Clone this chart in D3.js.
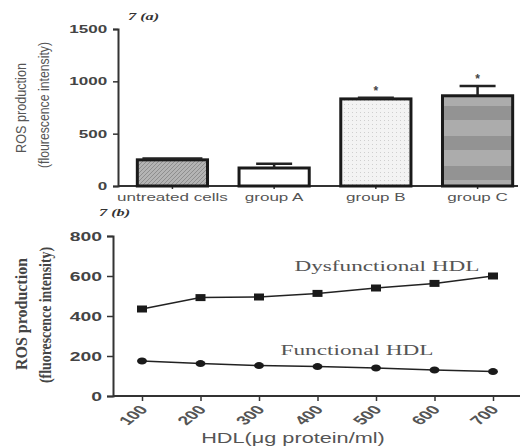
<!DOCTYPE html>
<html>
<head>
<meta charset="utf-8">
<script src="https://cdn.jsdelivr.net/npm/d3@7"></script>
<style>
  body { margin: 0; background: #fff; }
  svg { display: block; }
</style>
</head>
<body>
<svg id="canvas" width="520" height="447"></svg>
<script>
// panel (a): bar chart
let groups = ['untreated cells', 'group A', 'group B', 'group C']
let rosMean = [250, 172, 832, 862]
let rosErr = [12, 40, 10, 93]
let starred = [false, false, true, true]
let yTicksA = [0, 500, 1000, 1500]

// panel (b): line chart
let hdlDose = [100, 200, 300, 400, 500, 600, 700]
let dysfunctional = [435, 492, 495, 513, 540, 563, 600]
let functional = [175, 162, 152, 147, 140, 130, 122]
let yTicksB = [0, 200, 400, 600, 800]

const SX = 1.55 // the picture is stretched sideways, text too
let sans = 'Liberation Sans, Arial, sans-serif'
let serif = 'Liberation Serif, Times New Roman, serif'

let canvas = d3.select('#canvas')

let stretch = (sel) => {
    sel.attr('transform', function () {
        let x = +d3.select(this).attr('x') || 0
        let y = +d3.select(this).attr('y') || 0
        return 'translate(' + x + ',' + y + ') scale(' + SX + ',1) translate(' + (-x) + ',' + (-y) + ')'
    })
}

// patterns for the bar fills
let defs = canvas.append('defs')
let hatch = defs.append('pattern').attr('id', 'hatch')
    .attr('patternUnits', 'userSpaceOnUse').attr('width', 4).attr('height', 4)
hatch.append('rect').attr('width', 4).attr('height', 4).attr('fill', '#b4b4b4')
hatch.append('path').attr('d', 'M0,4 L4,0').attr('stroke', '#8e8e8e').attr('stroke-width', 1)

let dots = defs.append('pattern').attr('id', 'dots')
    .attr('patternUnits', 'userSpaceOnUse').attr('width', 4).attr('height', 4)
dots.append('rect').attr('width', 4).attr('height', 4).attr('fill', '#f3f3f3')
dots.append('rect').attr('width', 1).attr('height', 1).attr('fill', '#cfcfcf')

let stripes = defs.append('pattern').attr('id', 'stripes')
    .attr('patternUnits', 'userSpaceOnUse').attr('width', 10).attr('height', 30)
    .attr('y', 96)
stripes.append('rect').attr('width', 10).attr('height', 30).attr('fill', '#acacac')
stripes.append('rect').attr('y', 10).attr('width', 10).attr('height', 14).attr('fill', '#939393')

let fills = ['url(#hatch)', '#ffffff', 'url(#dots)', 'url(#stripes)']

// ---------- panel (a) ----------
let xA = d3.scaleBand().domain(groups).range([118, 532]).paddingInner(0.31).paddingOuter(0.19)
let yA = d3.scaleLinear().domain([0, 1500]).range([186, 29])

let axA = canvas.append('g').attr('transform', 'translate(118,0)')
    .call(d3.axisLeft(yA).tickValues(yTicksA).tickFormat(d3.format('d')).tickSize(5))
axA.select('.domain').attr('stroke', '#333').attr('stroke-width', 2)
axA.selectAll('.tick line').attr('stroke', '#333').attr('stroke-width', 1.5)
axA.selectAll('text').attr('x', -7).attr('font-family', sans).attr('font-size', 11)
    .attr('font-weight', 'bold').attr('fill', '#444').attr('transform', 'scale(' + SX + ',1)')

let axAx = canvas.append('g').attr('transform', 'translate(0,186)')
    .call(d3.axisBottom(xA).tickSize(3).tickSizeOuter(0))
axAx.select('.domain').attr('d', 'M118,0H518').attr('stroke', '#333').attr('stroke-width', 2)
axAx.selectAll('.tick line').attr('stroke', '#333').attr('stroke-width', 1.5)
axAx.selectAll('text').attr('y', 7).attr('font-family', sans).attr('font-size', 11)
    .attr('fill', '#555').attr('transform', 'scale(' + SX + ',1)')

let bars = canvas.append('g').selectAll('g').data(groups).enter().append('g')

bars.append('rect')
    .attr('x', (g) => xA(g))
    .attr('y', (g, i) => yA(rosMean[i]))
    .attr('width', xA.bandwidth())
    .attr('height', (g, i) => yA(0) - yA(rosMean[i]))
    .attr('fill', (g, i) => fills[i])
    .attr('stroke', '#1a1a1a')
    .attr('stroke-width', 3)

// error bars
bars.append('path')
    .attr('d', (g, i) => {
        let cx = xA(g) + xA.bandwidth() / 2
        let half = i === 0 ? 30 : 18
        return 'M' + cx + ',' + yA(rosMean[i]) + 'V' + yA(rosMean[i] + rosErr[i]) +
            'M' + (cx - half) + ',' + yA(rosMean[i] + rosErr[i]) + 'H' + (cx + half)
    })
    .attr('stroke', '#222').attr('stroke-width', 2.5).attr('fill', 'none')

bars.filter((g, i) => starred[i]).append('text')
    .attr('x', (g) => xA(g) + xA.bandwidth() / 2)
    .attr('y', (g) => yA(rosMean[groups.indexOf(g)] + rosErr[groups.indexOf(g)]))
    .attr('dy', -3)
    .attr('text-anchor', 'middle')
    .attr('font-family', sans).attr('font-size', 12).attr('font-weight', 'bold').attr('fill', '#444')
    .text('*')

canvas.append('text').attr('x', 128).attr('y', 20).text('7 (a)')
    .attr('font-family', serif).attr('font-size', 10.5).attr('font-style', 'italic')
    .attr('font-weight', 'bold').attr('fill', '#333').call(stretch)

// y label (a)
let yLabA = [['ROS production', 26, 108, 90], ['(flourescence intensity)', 49, 105, 126]]
yLabA.forEach((l) => {
    canvas.append('text')
        .attr('transform', 'translate(' + l[1] + ',' + l[2] + ') scale(' + SX + ',1) rotate(-90)')
        .attr('text-anchor', 'middle')
        .attr('font-family', sans).attr('font-size', 10).attr('fill', '#555')
        .attr('textLength', l[3]).attr('lengthAdjust', 'spacingAndGlyphs')
        .text(l[0])
})

// ---------- panel (b) ----------
let xB = d3.scaleLinear().domain([100, 700]).range([142, 493])
let yB = d3.scaleLinear().domain([0, 800]).range([396, 236])

let axB = canvas.append('g').attr('transform', 'translate(113,0)')
    .call(d3.axisLeft(yB).tickValues(yTicksB).tickSize(6))
axB.select('.domain').attr('stroke', '#333').attr('stroke-width', 2)
axB.selectAll('.tick line').attr('stroke', '#333').attr('stroke-width', 1.5)
axB.selectAll('text').attr('x', -7).attr('font-family', sans).attr('font-size', 12.5)
    .attr('font-weight', 'bold').attr('fill', '#444').attr('transform', 'scale(' + SX + ',1)')

let axBx = canvas.append('g').attr('transform', 'translate(0,396)')
    .call(d3.axisBottom(xB).tickValues(hdlDose).tickSize(5).tickSizeOuter(0))
axBx.select('.domain').attr('d', 'M113,0H520').attr('stroke', '#333').attr('stroke-width', 2)
axBx.selectAll('.tick line').attr('stroke', '#333').attr('stroke-width', 1.5)
axBx.selectAll('text')
    .attr('x', 0).attr('y', 0).attr('dy', '0.35em')
    .attr('text-anchor', 'end')
    .attr('transform', 'translate(1,11) scale(' + SX + ',1) rotate(-50)')
    .attr('font-family', sans).attr('font-size', 12.5).attr('font-weight', 'bold').attr('fill', '#555')

let line = d3.line().x((d) => xB(d[0])).y((d) => yB(d[1]))

let series = [
    { vals: dysfunctional, shape: 'square', label: 'Dysfunctional HDL', lx: 387, ly: 271 },
    { vals: functional, shape: 'circle', label: 'Functional HDL', lx: 357, ly: 355 }
]

series.forEach((s) => {
    let pts = hdlDose.map((d, i) => [d, s.vals[i]])
    canvas.append('path').datum(pts).attr('d', line)
        .attr('fill', 'none').attr('stroke', '#222').attr('stroke-width', 1.5)
    let g = canvas.append('g')
    if (s.shape === 'square') {
        g.selectAll('rect').data(pts).enter().append('rect')
            .attr('x', (d) => xB(d[0]) - 5).attr('y', (d) => yB(d[1]) - 3.5)
            .attr('width', 10).attr('height', 7).attr('fill', '#1a1a1a')
    } else {
        g.selectAll('ellipse').data(pts).enter().append('ellipse')
            .attr('cx', (d) => xB(d[0])).attr('cy', (d) => yB(d[1]))
            .attr('rx', 5).attr('ry', 3.5).attr('fill', '#1a1a1a')
    }
    canvas.append('text').attr('x', s.lx).attr('y', s.ly)
        .attr('text-anchor', 'middle')
        .attr('font-family', serif).attr('font-size', 15).attr('fill', '#555')
        .text(s.label).call(stretch)
})

canvas.append('text').attr('x', 99).attr('y', 216).text('7 (b)')
    .attr('font-family', serif).attr('font-size', 10.5).attr('font-style', 'italic')
    .attr('font-weight', 'bold').attr('fill', '#333').call(stretch)

canvas.append('text').attr('x', 293).attr('y', 443)
    .attr('text-anchor', 'middle')
    .attr('font-family', sans).attr('font-size', 14).attr('fill', '#555')
    .text('HDL(μg protein/ml)').call(stretch)

let yLabB = [['ROS production', 27, 314, 112], ['(fluorescence intensity)', 51, 315, 136]]
yLabB.forEach((l) => {
    canvas.append('text')
        .attr('transform', 'translate(' + l[1] + ',' + l[2] + ') scale(' + SX + ',1) rotate(-90)')
        .attr('text-anchor', 'middle')
        .attr('font-family', serif).attr('font-size', 11).attr('font-weight', 'bold').attr('fill', '#444')
        .attr('textLength', l[3]).attr('lengthAdjust', 'spacingAndGlyphs')
        .text(l[0])
})
</script>
</body>
</html>
